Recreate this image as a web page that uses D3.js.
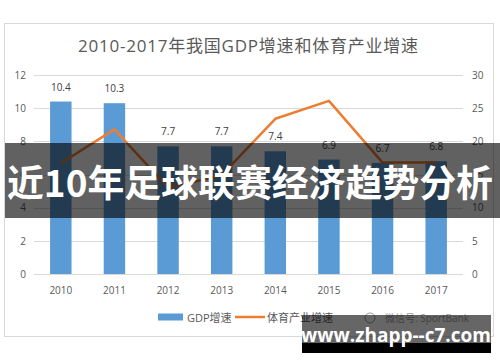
<!DOCTYPE html>
<html>
<head>
<meta charset="utf-8">
<script src="https://cdn.jsdelivr.net/npm/d3@7"></script>
<style>
  html, body { margin: 0; padding: 0; background: #fff; }
  svg { display: block; }
</style>
</head>
<body>
<svg id="chart"></svg>
<script>
const years = ['2010', '2011', '2012', '2013', '2014', '2015', '2016', '2017'];
const gdpGrowth = [10.4, 10.3, 7.7, 7.7, 7.4, 6.9, 6.7, 6.8];
const sportGrowth = [16.7, 21.8, 13.0, 14.9, 23.4, 26.1, 16.8, 16.8];
const leftTicks = [0, 2, 4, 6, 8, 10, 12];
const rightTicks = [0, 5, 10, 15, 20, 25, 30];
const seriesNames = ['GDP增速', '体育产业增速'];
const titleText = '2010-2017年我国GDP增速和体育产业增速';
const bannerText = '近10年足球联赛经济趋势分析';
const watermarkText = '微信号: SportBank';
const siteText = 'www.zhapp--c7.com';

const width = 500;
const height = 362;
const margin = { top: 75, right: 37, bottom: 88, left: 34 };
const font = "'Open Sans', 'Noto Sans CJK SC', sans-serif";
const textColor = '#595959';

const svg = d3.select('#chart')
  .attr('width', width)
  .attr('height', height)
  .attr('viewBox', [0, 0, width, height]);

// chart frame
svg.append('rect')
  .attr('x', 4.5).attr('y', 23.5)
  .attr('width', 489).attr('height', 313)
  .attr('fill', '#fff')
  .attr('stroke', '#d9d9d9');

svg.append('text')
  .attr('x', 78).attr('y', 52)
  .attr('font-family', font)
  .attr('font-size', 17)
  .attr('fill', textColor)
  .attr('textLength', 340)
  .attr('lengthAdjust', 'spacing')
  .text(titleText);

const x = d3.scaleBand()
  .domain(years)
  .range([margin.left, width - margin.right])
  .paddingInner(0.6)
  .paddingOuter(0.3);

const yL = d3.scaleLinear().domain([0, 12]).range([height - margin.bottom, margin.top]);
const yR = d3.scaleLinear().domain([0, 30]).range([height - margin.bottom, margin.top]);

// grid
svg.append('g')
  .selectAll('line')
  .data(leftTicks)
  .join('line')
  .attr('x1', margin.left).attr('x2', width - margin.right)
  .attr('y1', d => Math.round(yL(d)) + 0.5)
  .attr('y2', d => Math.round(yL(d)) + 0.5)
  .attr('stroke', '#d9d9d9');

const axisStyle = g => {
  g.select('.domain').remove();
  g.selectAll('.tick line').remove();
  g.selectAll('text')
    .attr('font-family', font)
    .attr('font-size', 10)
    .attr('fill', textColor);
};

svg.append('g')
  .attr('transform', 'translate(26,0)')
  .call(d3.axisLeft(yL).tickValues(leftTicks).tickSize(0).tickPadding(0))
  .call(axisStyle);

svg.append('g')
  .attr('transform', 'translate(472,0)')
  .call(d3.axisRight(yR).tickValues(rightTicks).tickSize(0).tickPadding(0))
  .call(axisStyle);

svg.append('g')
  .attr('transform', `translate(0,${height - margin.bottom})`)
  .call(d3.axisBottom(x).tickSize(0).tickPadding(13))
  .call(axisStyle);

// bars
svg.append('g')
  .selectAll('rect')
  .data(gdpGrowth)
  .join('rect')
  .attr('x', (d, i) => x(years[i]))
  .attr('y', d => yL(d))
  .attr('width', x.bandwidth())
  .attr('height', d => yL(0) - yL(d))
  .attr('fill', '#5b9bd5');

svg.append('g')
  .selectAll('text')
  .data(gdpGrowth)
  .join('text')
  .attr('x', (d, i) => x(years[i]) + x.bandwidth() / 2)
  .attr('y', d => yL(d) - 11)
  .attr('text-anchor', 'middle')
  .attr('font-family', font)
  .attr('font-size', 10)
  .attr('fill', '#404040')
  .text(d => d);

// line
svg.append('path')
  .datum(sportGrowth)
  .attr('fill', 'none')
  .attr('stroke', '#ed7d31')
  .attr('stroke-width', 2.5)
  .attr('stroke-linejoin', 'round')
  .attr('d', d3.line()
    .x((d, i) => x(years[i]) + x.bandwidth() / 2)
    .y(d => yR(d)));

// legend
const legend = svg.append('g')
  .attr('font-family', font)
  .attr('font-size', 11)
  .attr('fill', textColor);
legend.append('rect')
  .attr('x', 158).attr('y', 313.5).attr('width', 25).attr('height', 7)
  .attr('fill', '#5b9bd5');
legend.append('text').attr('x', 187).attr('y', 321.5).text(seriesNames[0]);
legend.append('line')
  .attr('x1', 235).attr('x2', 265).attr('y1', 317).attr('y2', 317)
  .attr('stroke', '#ed7d31').attr('stroke-width', 2.5);
legend.append('text').attr('x', 267).attr('y', 321.5).text(seriesNames[1]);

// faint watermark
svg.append('circle')
  .attr('cx', 370).attr('cy', 318).attr('r', 5)
  .attr('fill', 'none').attr('stroke', '#9a9a9a').attr('stroke-width', 1);
svg.append('text')
  .attr('x', 385).attr('y', 322)
  .attr('font-family', font)
  .attr('font-size', 10)
  .attr('fill', '#a0a0a0')
  .text(watermarkText);

// banner overlay
svg.append('rect')
  .attr('x', 5).attr('y', 143).attr('width', 495).attr('height', 75)
  .attr('fill', '#000').attr('fill-opacity', 0.62);
svg.append('text')
  .attr('x', 7).attr('y', 197)
  .attr('font-family', "'Noto Sans CJK SC', sans-serif")
  .attr('font-weight', 700)
  .attr('font-size', 37)
  .attr('fill', '#fff')
  .attr('textLength', 486)
  .attr('lengthAdjust', 'spacingAndGlyphs')
  .text(bannerText);

// site box
svg.append('rect')
  .attr('x', 302).attr('y', 315).attr('width', 189).attr('height', 28)
  .attr('fill', '#000').attr('fill-opacity', 0.6);
svg.append('rect')
  .attr('x', 302).attr('y', 343).attr('width', 189).attr('height', 10)
  .attr('fill', '#000');
svg.append('text')
  .attr('x', 396).attr('y', 342)
  .attr('text-anchor', 'middle')
  .attr('font-family', "'Open Sans', sans-serif")
  .attr('font-weight', 700)
  .attr('font-size', 19)
  .attr('fill', '#fff')
  .text(siteText);
</script>
</body>
</html>
